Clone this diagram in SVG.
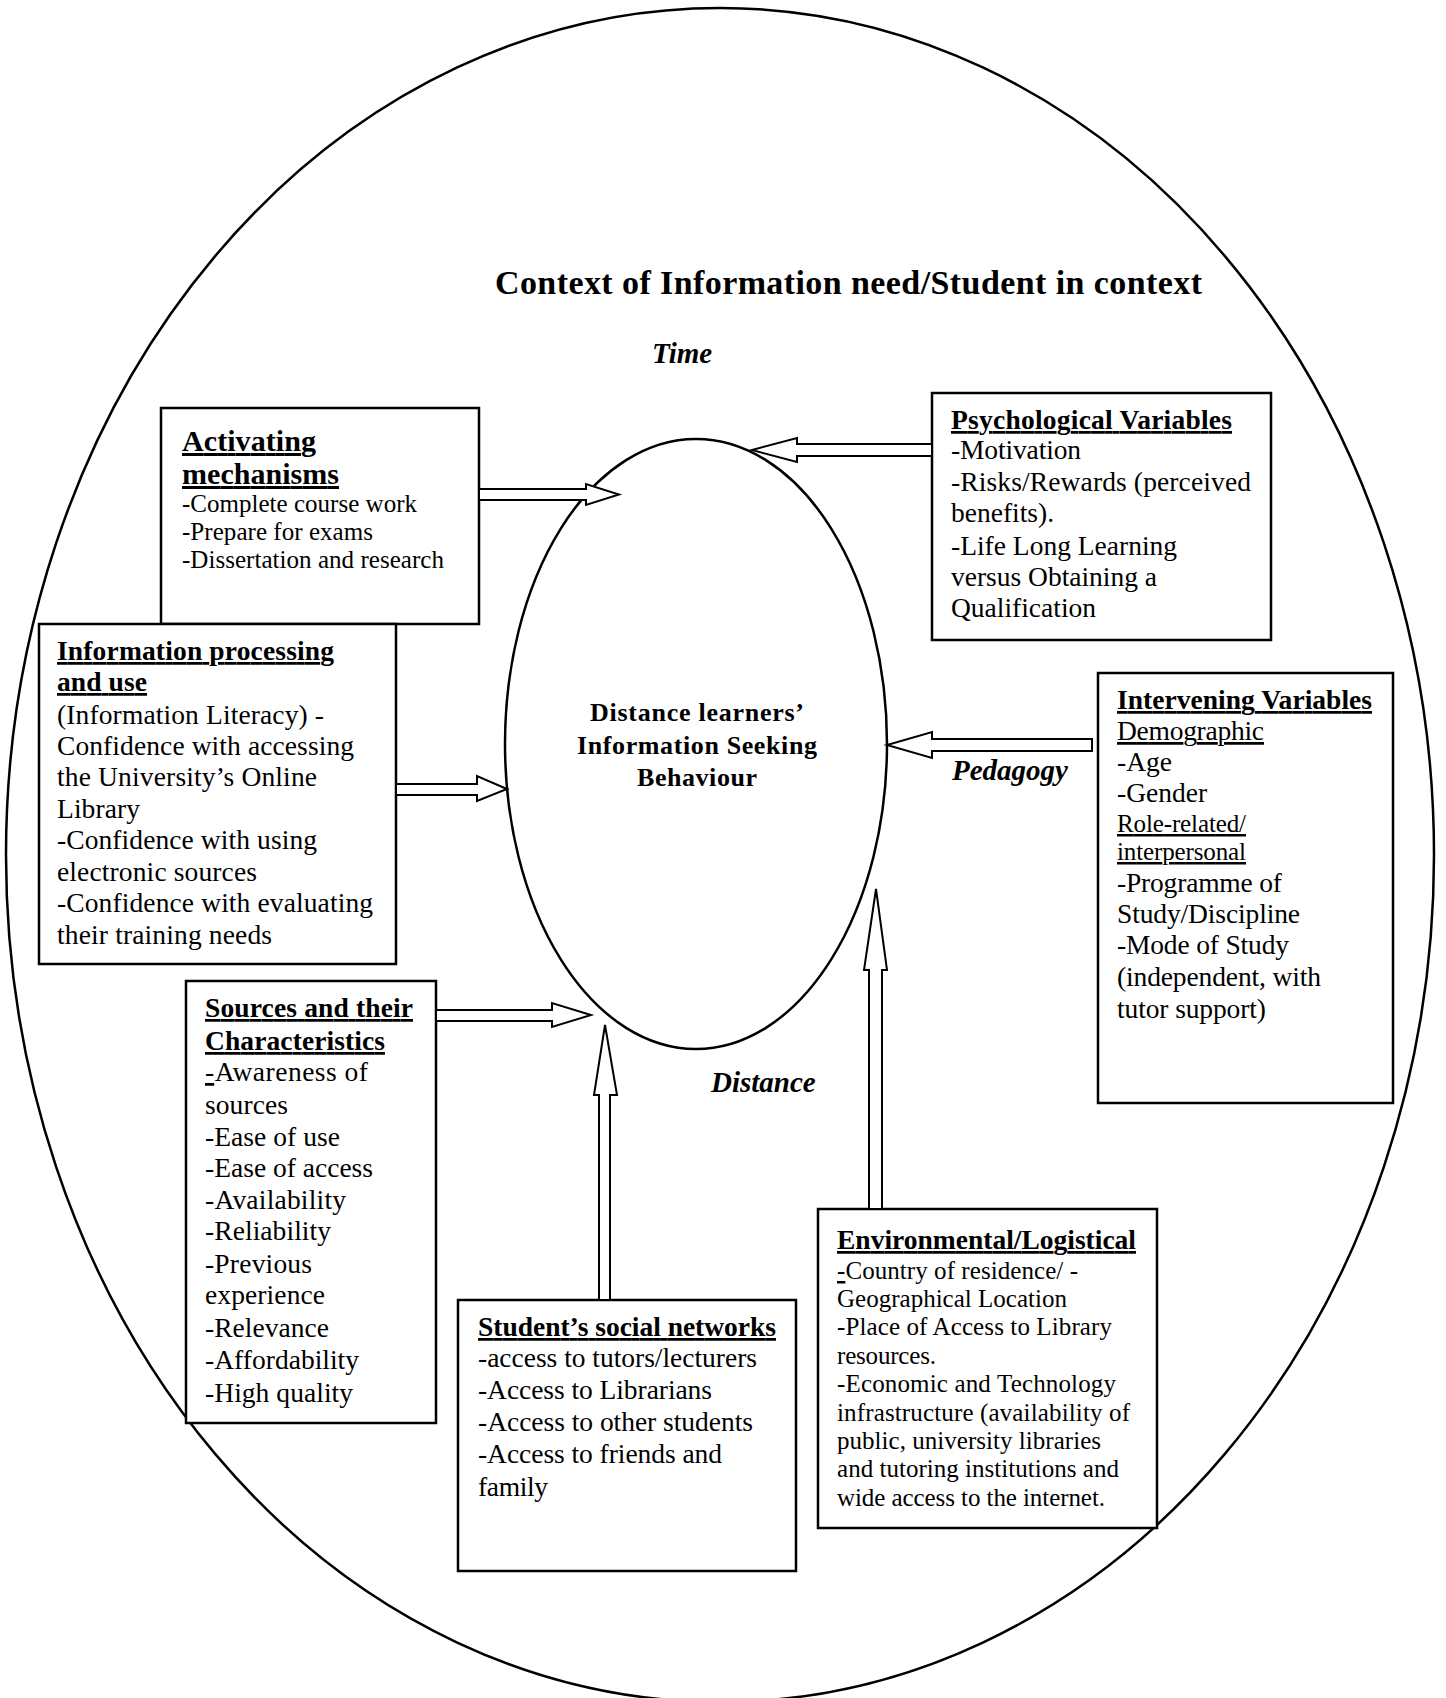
<svg xmlns="http://www.w3.org/2000/svg" width="1446" height="1698" viewBox="0 0 1446 1698">
  <style>
    text { font-family: "Liberation Serif", "Times New Roman", serif; fill: #000; }
    .title { font-size: 34px; font-weight: bold; }
    .axis { font-size: 29px; font-weight: bold; font-style: italic; }
    .head { font-size: 27.5px; font-weight: bold; text-decoration: underline; }
    .headL { font-size: 30px; font-weight: bold; text-decoration: underline; }
    .body { font-size: 27.5px; }
    .small { font-size: 25px; }
    .ul { text-decoration: underline; }
    .core { font-size: 26px; font-weight: bold; text-anchor: middle; }
    .box { fill: #fff; stroke: #000; stroke-width: 2.5; }
    .ring { fill: none; stroke: #000; stroke-width: 2.5; }
    .arrow { fill: #fff; stroke: #000; stroke-width: 2; stroke-linejoin: miter; }
  </style>
  <rect width="1446" height="1698" fill="#fff"/>

  <!-- outer context boundary -->
  <ellipse class="ring" cx="720" cy="855" rx="714" ry="847"/>
  <text class="title" x="495" y="294" textLength="707">Context of Information need/Student in context</text>
  <text class="axis" x="652" y="363">Time</text>
  <text class="axis" x="952" y="780">Pedagogy</text>
  <text class="axis" x="711" y="1092">Distance</text>

  <!-- central behaviour -->
  <g id="core">
    <ellipse class="ring" cx="696" cy="744" rx="191" ry="305"/>
    <text class="core" x="697" y="721" textLength="214">Distance learners’</text>
    <text class="core" x="697" y="754" textLength="240">Information Seeking</text>
    <text class="core" x="697" y="786" textLength="120">Behaviour</text>
  </g>

  <g id="activating">
    <rect class="box" x="161" y="408" width="318" height="216"/>
    <text class="headL" x="182" y="451" textLength="134">Activating</text>
    <text class="headL" x="182" y="484" textLength="157">mechanisms</text>
    <text class="small" x="182" y="511.5" textLength="235">-Complete course work</text>
    <text class="small" x="182" y="539.5" textLength="191">-Prepare for exams</text>
    <text class="small" x="182" y="568" textLength="262">-Dissertation and research</text>
  </g>

  <g id="processing">
    <rect class="box" x="39" y="624" width="357" height="340"/>
    <text class="head" x="57" y="660" textLength="277">Information processing</text>
    <text class="head" x="57" y="691" textLength="90">and use</text>
    <text class="body" x="57" y="724" textLength="267">(Information Literacy) -</text>
    <text class="body" x="57" y="755" textLength="297">Confidence with accessing</text>
    <text class="body" x="57" y="786" textLength="260">the University’s Online</text>
    <text class="body" x="57" y="818" textLength="83">Library</text>
    <text class="body" x="57" y="849" textLength="260">-Confidence with using</text>
    <text class="body" x="57" y="881" textLength="200">electronic sources</text>
    <text class="body" x="57" y="912" textLength="316">-Confidence with evaluating</text>
    <text class="body" x="57" y="944" textLength="215">their training needs</text>
  </g>

  <g id="psychological">
    <rect class="box" x="932" y="393" width="339" height="247"/>
    <text class="head" x="951" y="429" textLength="281">Psychological Variables</text>
    <text class="body" x="951" y="459" textLength="130">-Motivation</text>
    <text class="body" x="951" y="491" textLength="300">-Risks/Rewards (perceived</text>
    <text class="body" x="951" y="522" textLength="103">benefits).</text>
    <text class="body" x="951" y="555" textLength="226">-Life Long Learning</text>
    <text class="body" x="951" y="586" textLength="206">versus Obtaining a</text>
    <text class="body" x="951" y="617" textLength="145">Qualification</text>
  </g>

  <g id="intervening">
    <rect class="box" x="1098" y="673" width="295" height="430"/>
    <text class="head" x="1117" y="709" textLength="255">Intervening Variables</text>
    <text class="body ul" x="1117" y="740" textLength="147">Demographic</text>
    <text class="body" x="1117" y="771">-Age</text>
    <text class="body" x="1117" y="802">-Gender</text>
    <text class="small ul" x="1117" y="832" textLength="129">Role-related/</text>
    <text class="small ul" x="1117" y="860" textLength="129">interpersonal</text>
    <text class="body" x="1117" y="892" textLength="165">-Programme of</text>
    <text class="body" x="1117" y="923" textLength="183">Study/Discipline</text>
    <text class="body" x="1117" y="954" textLength="172">-Mode of Study</text>
    <text class="body" x="1117" y="986" textLength="204">(independent, with</text>
    <text class="body" x="1117" y="1018" textLength="149">tutor support)</text>
  </g>

  <g id="sources">
    <rect class="box" x="186" y="981" width="250" height="442"/>
    <text class="head" x="205" y="1017" textLength="208">Sources and their</text>
    <text class="head" x="205" y="1050" textLength="180">Characteristics</text>
    <text class="body" x="205" y="1081" textLength="163"><tspan class="ul">-</tspan>Awareness of</text>
    <text class="body" x="205" y="1114" textLength="83">sources</text>
    <text class="body" x="205" y="1146" textLength="135">-Ease of use</text>
    <text class="body" x="205" y="1177" textLength="168">-Ease of access</text>
    <text class="body" x="205" y="1209" textLength="141">-Availability</text>
    <text class="body" x="205" y="1240" textLength="126">-Reliability</text>
    <text class="body" x="205" y="1273" textLength="107">-Previous</text>
    <text class="body" x="205" y="1304" textLength="120">experience</text>
    <text class="body" x="205" y="1337" textLength="124">-Relevance</text>
    <text class="body" x="205" y="1369" textLength="154">-Affordability</text>
    <text class="body" x="205" y="1402" textLength="148">-High quality</text>
  </g>

  <g id="social">
    <rect class="box" x="458" y="1300" width="338" height="271"/>
    <text class="head" x="478" y="1336" textLength="298">Student’s social networks</text>
    <text class="body" x="478" y="1367" textLength="279">-access to tutors/lecturers</text>
    <text class="body" x="478" y="1399" textLength="234">-Access to Librarians</text>
    <text class="body" x="478" y="1431" textLength="275">-Access to other students</text>
    <text class="body" x="478" y="1463" textLength="244">-Access to friends and</text>
    <text class="body" x="478" y="1496" textLength="70">family</text>
  </g>

  <g id="environmental">
    <rect class="box" x="818" y="1209" width="339" height="319"/>
    <text class="head" x="837" y="1249" textLength="299">Environmental/Logistical</text>
    <text class="small" x="837" y="1279" textLength="241"><tspan class="ul">-</tspan>Country of residence/ -</text>
    <text class="small" x="837" y="1307" textLength="230">Geographical Location</text>
    <text class="small" x="837" y="1335" textLength="275">-Place of Access to Library</text>
    <text class="small" x="837" y="1364" textLength="99">resources.</text>
    <text class="small" x="837" y="1392" textLength="279">-Economic and Technology</text>
    <text class="small" x="837" y="1421" textLength="293">infrastructure (availability of</text>
    <text class="small" x="837" y="1449" textLength="264">public, university libraries</text>
    <text class="small" x="837" y="1477" textLength="282">and tutoring institutions and</text>
    <text class="small" x="837" y="1506" textLength="268">wide access to the internet.</text>
  </g>

  <!-- block arrows pointing into the central behaviour -->
  <g id="connectors">
    <polygon class="arrow" points="479,489 586,489 586,484 619,494.5 586,505 586,500 479,500"/>
    <polygon class="arrow" points="932,444 797,444 797,438 752,450 797,462 797,456 932,456"/>
    <polygon class="arrow" points="396,784 477,784 477,776 507,789 477,801 477,795 396,795"/>
    <polygon class="arrow" points="1092,739 932,739 932,732 887,745 932,758 932,751 1092,751"/>
    <polygon class="arrow" points="436,1010 552,1010 552,1003 591,1015 552,1027 552,1021 436,1021"/>
    <polygon class="arrow" points="599,1300 599,1095 594,1095 605,1025 617,1095 610,1095 610,1300"/>
    <polygon class="arrow" points="869,1209 869,970 864,970 876,889 887,970 882,970 882,1209"/>
  </g>
</svg>
